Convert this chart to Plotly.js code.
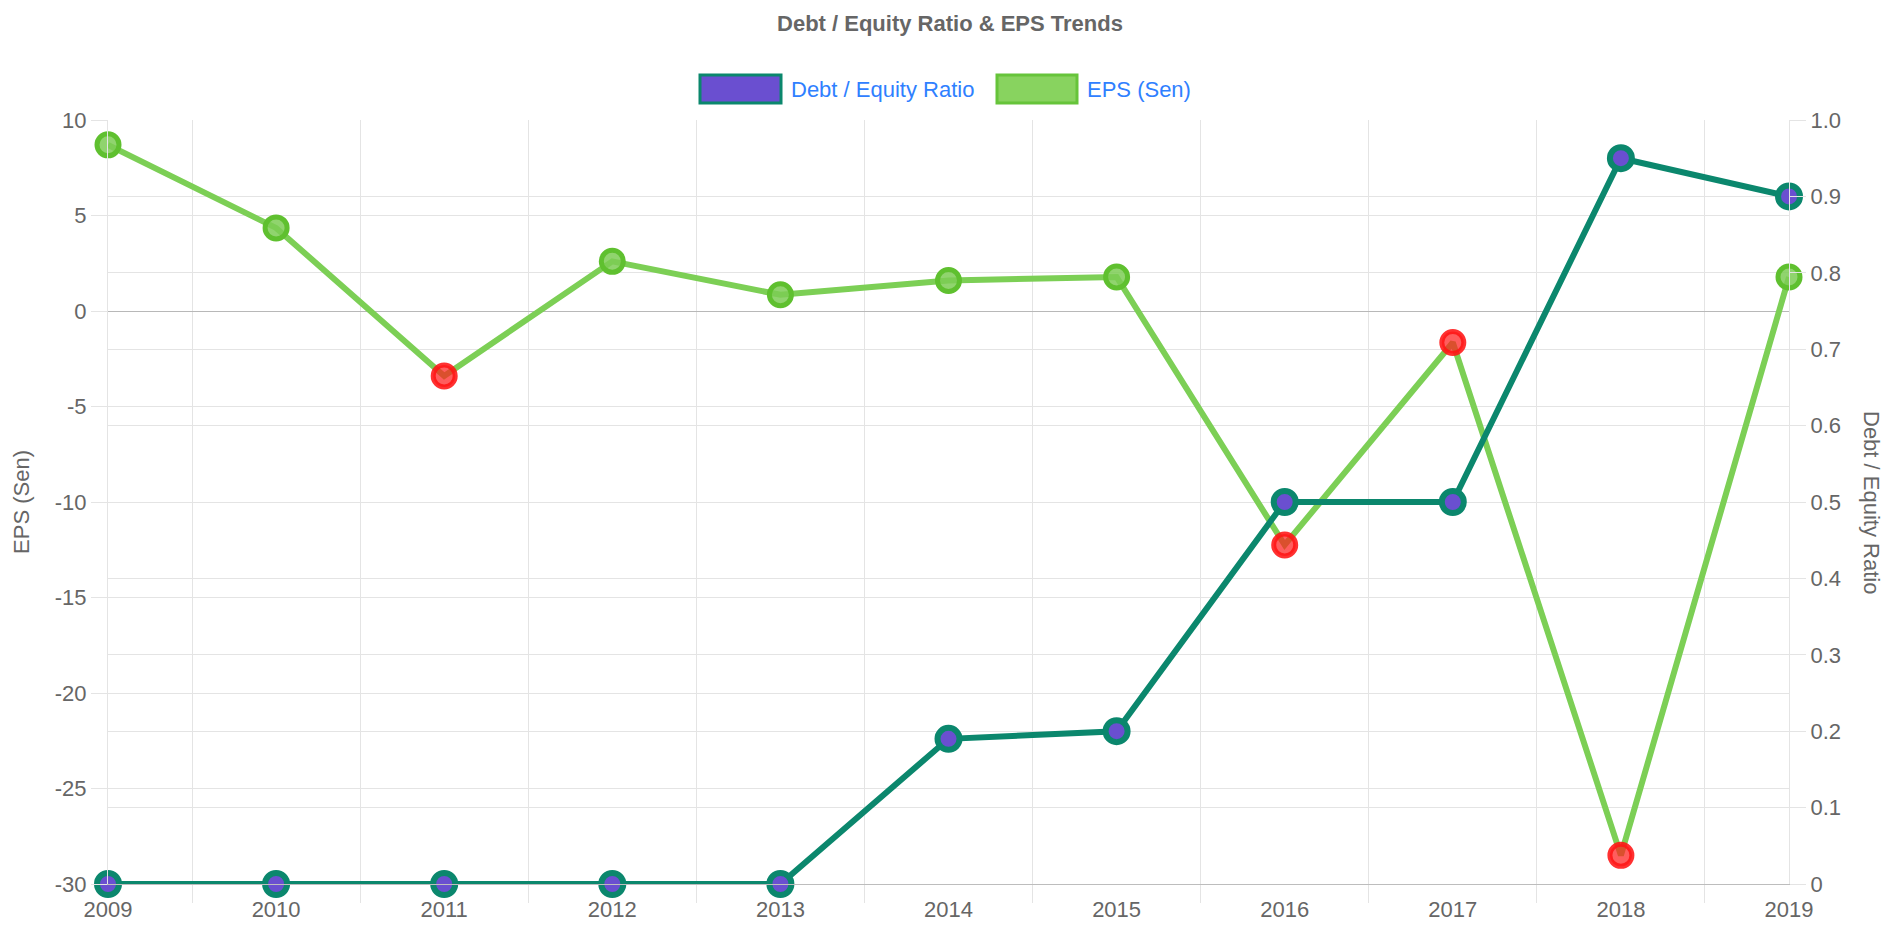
<!DOCTYPE html>
<html>
<head>
<meta charset="utf-8">
<script src="https://cdn.plot.ly/plotly-3.0.1.min.js"></script>
<style>
html,body{margin:0;padding:0;background:#fff;}
#chart{width:1900px;height:928px;}
</style>
</head>
<body>
<div id="chart"></div>
<script>
// ---- data ----
var years = [2009, 2010, 2011, 2012, 2013, 2014, 2015, 2016, 2017, 2018, 2019];
var yearLabels = ["2009","2010","2011","2012","2013","2014","2015","2016","2017","2018","2019"];
var debtEquity = [0, 0, 0, 0, 0, 0.19, 0.20, 0.50, 0.50, 0.95, 0.90];
var eps = [8.7, 4.35, -3.4, 2.6, 0.85, 1.6, 1.78, -12.25, -1.65, -28.5, 1.78];
var leftTickVals = [-30, -25, -20, -15, -10, -5, 0, 5, 10];
var leftTickText = ["-30", "-25", "-20", "-15", "-10", "-5", "0", "5", "10"];
var rightTickVals = [0, 0.1, 0.2, 0.3, 0.4, 0.5, 0.6, 0.7, 0.8, 0.9, 1.0];
var rightTickText = ["0", "0.1", "0.2", "0.3", "0.4", "0.5", "0.6", "0.7", "0.8", "0.9", "1.0"];
var seriesNames = ["Debt / Equity Ratio", "EPS (Sen)"];
var chartTitle = "Debt / Equity Ratio & EPS Trends";

// ---- layout constants ----
var W = 1900, H = 928;
var M = {l: 108, r: 111, t: 120, b: 44};
var plotW = W - M.l - M.r, plotH = H - M.t - M.b;
function px(x){ return (x - M.l) / plotW; }
function py(y){ return (H - M.b - y) / plotH; }

var FONT = '"Liberation Sans", Arial, Helvetica, sans-serif';
var GRID = '#e4e4e4';
var TXT = '#666666';
var TEAL = '#0b876d';
var PURPLE = '#6a4fd0';
var GREEN_LINE = '#7ccf55';

var epsFill = eps.map(function(v){ return v < 0 ? 'rgba(255,30,30,0.72)' : 'rgba(125,205,85,0.85)'; });
var epsBorder = eps.map(function(v){ return v < 0 ? 'rgba(255,20,20,0.88)' : '#5fc02f'; });

var traceEps = {
  x: years, y: eps, yaxis: 'y', name: seriesNames[1],
  type: 'scatter', mode: 'lines+markers', cliponaxis: false, showlegend: false,
  line: {color: GREEN_LINE, width: 6},
  marker: {size: 22, color: epsFill, line: {color: epsBorder, width: 5}}
};
var traceDe = {
  x: years, y: debtEquity, yaxis: 'y2', name: seriesNames[0],
  type: 'scatter', mode: 'lines+markers', cliponaxis: false, showlegend: false,
  line: {color: TEAL, width: 6},
  marker: {size: 22, color: PURPLE, line: {color: TEAL, width: 6}}
};

// legend drawn as boxes + text (Chart.js style)
var legendY0 = 75, legendY1 = 103;
var shapes = [
  {type: 'rect', xref: 'paper', yref: 'paper', x0: px(700), x1: px(781), y0: py(legendY1), y1: py(legendY0),
   fillcolor: PURPLE, line: {color: TEAL, width: 3}, layer: 'above'},
  {type: 'rect', xref: 'paper', yref: 'paper', x0: px(997), x1: px(1077), y0: py(legendY1), y1: py(legendY0),
   fillcolor: '#88d35f', line: {color: '#66c43a', width: 3}, layer: 'above'}
];
var annotations = [
  {xref: 'paper', yref: 'paper', x: px(789), y: py(89), xanchor: 'left', yanchor: 'middle',
   text: seriesNames[0], showarrow: false, font: {family: FONT, size: 22, color: '#2f80ff'}},
  {xref: 'paper', yref: 'paper', x: px(1085), y: py(89), xanchor: 'left', yanchor: 'middle',
   text: seriesNames[1], showarrow: false, font: {family: FONT, size: 22, color: '#2f80ff'}},
  // right axis title, reading top to bottom
  {xref: 'paper', yref: 'paper', x: px(1872), y: py(502), xanchor: 'center', yanchor: 'middle',
   text: seriesNames[0], textangle: 90, showarrow: false, font: {family: FONT, size: 22, color: TXT}}
];

var layout = {
  width: W, height: H,
  margin: M,
  paper_bgcolor: '#ffffff', plot_bgcolor: '#ffffff',
  font: {family: FONT, size: 22, color: TXT},
  hovermode: false,
  showlegend: false,
  title: {text: chartTitle, x: 0.5, xanchor: 'center', y: 1 - 23 / H, yanchor: 'middle',
          font: {family: FONT, size: 22, color: TXT, weight: 'bold'}},
  xaxis: {
    type: 'linear', range: [2009, 2019], tickvals: years, ticktext: yearLabels,
    showgrid: false, zeroline: false, showline: true, linecolor: '#bdbdbd', linewidth: 1,
    ticks: 'outside', ticklen: 6, tickcolor: 'rgba(0,0,0,0)',
    tickfont: {family: FONT, size: 22, color: TXT},
    minor: {tick0: 2009.5, dtick: 1, showgrid: true, gridcolor: GRID, gridwidth: 1,
            ticks: 'outside', ticklen: 18, tickcolor: GRID}
  },
  yaxis: {
    range: [-30, 10], tickvals: leftTickVals, ticktext: leftTickText,
    showgrid: true, gridcolor: GRID, gridwidth: 1,
    zeroline: true, zerolinecolor: '#b8b8b8', zerolinewidth: 1,
    showline: true, linecolor: GRID, linewidth: 1,
    ticks: 'outside', ticklen: 16, tickcolor: GRID,
    tickfont: {family: FONT, size: 22, color: TXT},
    title: {text: seriesNames[1], font: {family: FONT, size: 22, color: TXT}, standoff: 19}
  },
  yaxis2: {
    overlaying: 'y', side: 'right',
    range: [0, 1], tickvals: rightTickVals, ticktext: rightTickText,
    showgrid: true, gridcolor: GRID, gridwidth: 1,
    zeroline: false,
    showline: true, linecolor: GRID, linewidth: 1,
    ticks: 'outside', ticklen: 16, tickcolor: GRID,
    tickfont: {family: FONT, size: 22, color: TXT}
  },
  shapes: shapes,
  annotations: annotations
};

Plotly.newPlot('chart', [traceEps, traceDe], layout, {displayModeBar: false, staticPlot: true});
</script>
</body>
</html>
